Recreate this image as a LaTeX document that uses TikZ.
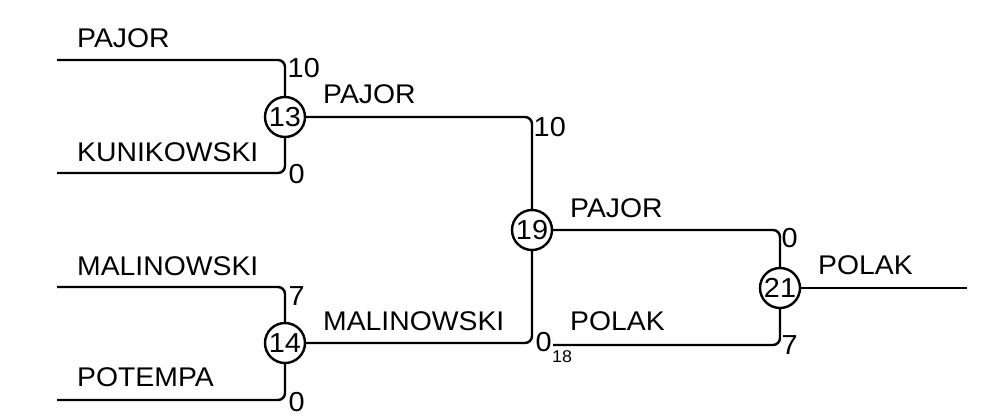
\documentclass[tikz,border=0pt]{standalone}
\usepackage{fontspec}
\newfontfamily\lab[FakeStretch=1.05]{Liberation Sans}
\begin{document}
\begin{tikzpicture}[x=1pt,y=-1pt,
  twire/.style={line width=2.4pt,rounded corners=7pt},
  tgame/.style={circle,draw,line width=2.4pt,minimum size=40pt,inner sep=0pt,fill=white,font=\lab\fontsize{27.5}{30}\selectfont},
  tname/.style={anchor=west,inner sep=0pt,font=\lab\fontsize{27}{30}\selectfont},
  tscore/.style={anchor=west,inner sep=0pt,font=\lab\fontsize{27.5}{30}\selectfont},
  tseed/.style={anchor=west,inner sep=0pt,font=\lab\fontsize{17}{19}\selectfont}]
\useasboundingbox (0,0) rectangle (983,416);
% games
\node[tgame] (g13) at (285,117) {13};
\node[tgame] (g14) at (285,343) {14};
\node[tgame] (g19) at (532,230) {19};
\node[tgame] (g21) at (780,288) {21};
% line starts
\coordinate (p1) at (57,60);
\coordinate (p2) at (57,173);
\coordinate (p3) at (57,287);
\coordinate (p4) at (57,400);
\coordinate (p5) at (553,345);
\coordinate (w) at (967,288);
% wires
\draw[twire] (p1) -| (g13);
\draw[twire] (p2) -| (g13);
\draw[twire] (p3) -| (g14);
\draw[twire] (p4) -| (g14);
\draw[twire] (g13) -| (g19);
\draw[twire] (g14) -| (g19);
\draw[twire] (g19) -| (g21);
\draw[twire] (p5) -| (g21);
\draw[line width=2.4pt] (g21) -- (w);
% names
\node[tname] (n1) at (77,38.5) {PAJOR};
\node[tname] (n2) at (77,152) {KUNIKOWSKI};
\node[tname] (n3) at (77,266) {MALINOWSKI};
\node[tname] (n4) at (77,377.5) {POTEMPA};
\node[tname] (n5) at (323,94) {PAJOR};
\node[tname] (n6) at (323,321) {MALINOWSKI};
\node[tname] (n7) at (570,208.5) {PAJOR};
\node[tname] (n8) at (570,321) {POLAK};
\node[tname] (n9) at (818,265) {POLAK};
% scores
\node[tscore] (s1) at (287.5,68.5) {10};
\node[tscore] (s2) at (288.5,174.5) {0};
\node[tscore] (s3) at (288.5,296.5) {7};
\node[tscore] (s4) at (288.5,402) {0};
\node[tscore] (s5) at (533.5,127.5) {10};
\node[tscore] (s6) at (535.5,342.5) {0};
\node[tseed] (s7) at (552,357) {18};
\node[tscore] (s8) at (781.5,238.5) {0};
\node[tscore] (s9) at (781.5,345) {7};
\end{tikzpicture}
\end{document}
